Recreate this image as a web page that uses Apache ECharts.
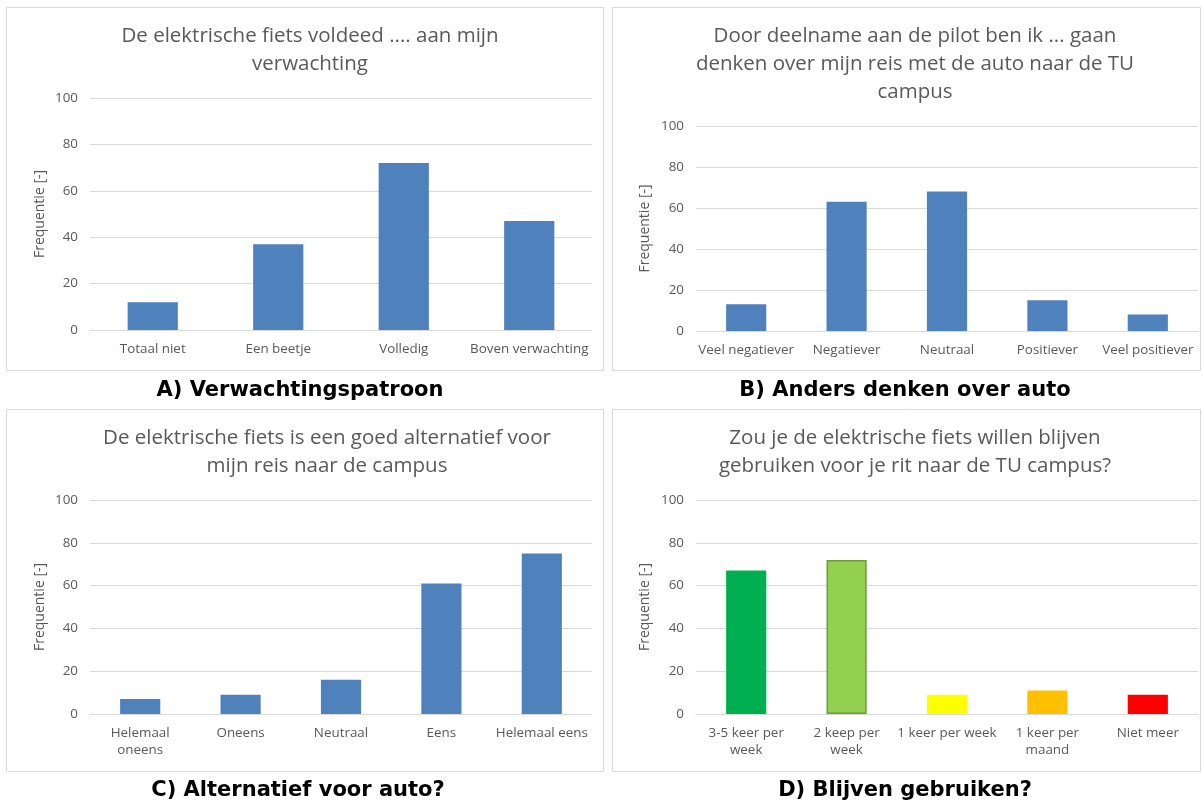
<!DOCTYPE html>
<html>
<head>
<meta charset="utf-8">
<script src="https://cdn.jsdelivr.net/npm/echarts@6/dist/echarts.min.js"></script>
<style>
  html, body { margin: 0; padding: 0; background: #fff; }
  #main { width: 1202px; height: 805px; }
</style>
</head>
<body>
<div id="main"></div>
<script>
// data
const catsA = ['Totaal niet', 'Een beetje', 'Volledig', 'Boven verwachting'];
const valsA = [12, 37, 72, 47];

const catsB = ['Veel negatiever', 'Negatiever', 'Neutraal', 'Positiever', 'Veel positiever'];
const valsB = [13, 63, 68, 15, 8];

const catsC = ['Helemaal\noneens', 'Oneens', 'Neutraal', 'Eens', 'Helemaal eens'];
const valsC = [7, 9, 16, 61, 75];

const catsD = ['3-5 keer per\nweek', '2 keep per\nweek', '1 keer per week', '1 keer per\nmaand', 'Niet meer'];
const valsD = [67, 72, 9, 11, 9];
const colorsD = ['#00B050', '#92D050', '#FFFF00', '#FFC000', '#FF0000'];

const yMin = 0, yMax = 100, yStep = 20;
const yName = 'Frequentie [-]';

const titles = [
  'De elektrische fiets voldeed .... aan mijn\nverwachting',
  'Door deelname aan de pilot ben ik ... gaan\ndenken over mijn reis met de auto naar de TU\ncampus',
  'De elektrische fiets is een goed alternatief voor\nmijn reis naar de campus',
  'Zou je de elektrische fiets willen blijven\ngebruiken voor je rit naar de TU campus?'
];
const captions = [
  'A) Verwachtingspatroon',
  'B) Anders denken over auto',
  'C) Alternatief voor auto?',
  'D) Blijven gebruiken?'
];

const chart = echarts.init(document.getElementById('main'));

const grey = '#595959';
const lineGrey = '#D9D9D9';
const font = '"Open Sans", sans-serif';
const blue = '#4F81BD';

const grids = [
  { left: 90, top: 98, width: 502, height: 232 },
  { left: 696, top: 126, width: 502, height: 205 },
  { left: 90, top: 500, width: 502, height: 214 },
  { left: 696, top: 500, width: 502, height: 214 }
];
const nameGaps = [43, 44, 43, 44];

function xAxis(cats, i) {
  return {
    type: 'category', gridIndex: i, data: cats,
    axisLine: { lineStyle: { color: lineGrey } },
    axisTick: { show: false },
    axisLabel: { color: grey, fontSize: 13.4, fontFamily: font, margin: 11, lineHeight: 17, interval: 0 }
  };
}
function yAxis(i) {
  return {
    type: 'value', gridIndex: i, min: yMin, max: yMax, interval: yStep,
    name: yName, nameLocation: 'middle', nameGap: nameGaps[i], nameRotate: 90,
    nameTextStyle: { color: grey, fontSize: 14, fontFamily: font },
    axisLine: { show: false }, axisTick: { show: false },
    axisLabel: { color: grey, fontSize: 13.4, fontFamily: font, margin: 12 },
    splitLine: { lineStyle: { color: lineGrey } }
  };
}

// panel borders, titles, captions
const panels = [
  { x: 6, y: 7, w: 597, h: 363, tx: 310, ty: 50, cx: 300, cy: 391 },
  { x: 612, y: 7, w: 588, h: 363, tx: 915, ty: 64, cx: 905, cy: 391 },
  { x: 6, y: 409, w: 597, h: 362, tx: 327, ty: 452, cx: 298, cy: 791 },
  { x: 612, y: 409, w: 588, h: 362, tx: 915, ty: 452, cx: 905, cy: 791 }
];
const graphic = [];
panels.forEach((p, i) => {
  graphic.push({
    type: 'rect', silent: true, z: -1,
    shape: { x: p.x + 0.5, y: p.y + 0.5, width: p.w, height: p.h },
    style: { fill: 'none', stroke: lineGrey, lineWidth: 1 }
  });
  graphic.push({
    type: 'text', x: p.tx, y: p.ty,
    style: { text: titles[i], fill: grey, fontSize: 20.5, fontFamily: font, lineHeight: 28, align: 'center', verticalAlign: 'middle' }
  });
  graphic.push({
    type: 'text', x: p.cx, y: p.cy,
    style: { text: captions[i], fill: '#000', fontSize: 21, fontWeight: 'bold', fontFamily: '"DejaVu Sans", sans-serif', align: 'center', verticalAlign: 'middle' }
  });
});

chart.setOption({
  animation: false,
  grid: grids,
  xAxis: [xAxis(catsA, 0), xAxis(catsB, 1), xAxis(catsC, 2), xAxis(catsD, 3)],
  yAxis: [yAxis(0), yAxis(1), yAxis(2), yAxis(3)],
  graphic: graphic,
  series: [
    { type: 'bar', xAxisIndex: 0, yAxisIndex: 0, data: valsA, barWidth: '40%', itemStyle: { color: blue } },
    { type: 'bar', xAxisIndex: 1, yAxisIndex: 1, data: valsB, barWidth: '40%', itemStyle: { color: blue } },
    { type: 'bar', xAxisIndex: 2, yAxisIndex: 2, data: valsC, barWidth: '40%', itemStyle: { color: blue } },
    {
      type: 'bar', xAxisIndex: 3, yAxisIndex: 3, barWidth: '40%',
      data: valsD.map((v, k) => ({
        value: v,
        itemStyle: k === 1
          ? { color: colorsD[k], borderColor: '#6E9A3A', borderWidth: 1.5 }
          : { color: colorsD[k] }
      }))
    }
  ]
});
</script>
</body>
</html>
